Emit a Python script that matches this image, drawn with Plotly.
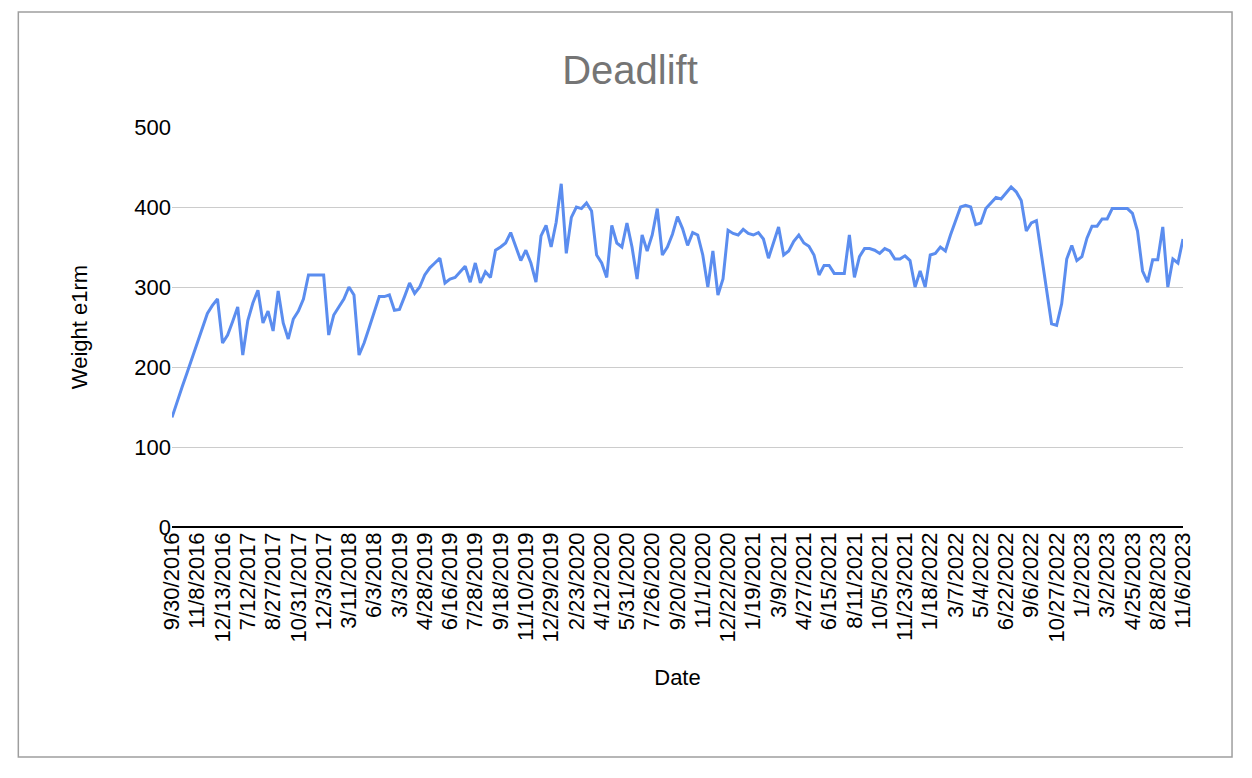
import plotly.graph_objects as go

tick_labels = ["9/30/2016","11/8/2016","12/13/2016","7/12/2017","8/27/2017","10/31/2017","12/3/2017",
"3/11/2018","6/3/2018","3/3/2019","4/28/2019","6/16/2019","7/28/2019","9/18/2019","11/10/2019",
"12/29/2019","2/23/2020","4/12/2020","5/31/2020","7/26/2020","9/20/2020","11/1/2020","12/22/2020",
"1/19/2021","3/9/2021","4/27/2021","6/15/2021","8/11/2021","10/5/2021","11/23/2021","1/18/2022",
"3/7/2022","5/4/2022","6/22/2022","9/6/2022","10/27/2022","1/2/2023","3/2/2023","4/25/2023",
"8/28/2023","11/6/2023"]
tick_step = 5

weight_e1rm = [
137,157,175,193,211,230,249,267,277,285,230,240,257,275,215,258,280,296,255,270,
245,295,255,235,260,270,285,315,315,315,315,240,265,275,285,300,290,215,230,249,
269,288,288,290,271,272,288,305,292,300,315,324,330,336,305,310,312,319,326,306,
330,305,319,312,346,350,355,368,350,333,346,330,306,364,377,350,381,429,342,387,
400,398,405,395,340,330,312,377,355,350,380,350,310,365,345,365,398,340,350,366,
388,373,352,368,365,340,300,345,290,310,371,367,365,372,367,365,368,360,336,355,
375,340,345,357,365,355,351,340,315,327,327,317,317,317,365,312,338,348,348,346,
342,348,345,335,335,339,333,300,320,300,340,342,350,345,365,384,400,402,400,378,
380,398,405,412,410,418,425,419,408,370,380,383,340,302,254,252,279,335,352,333,
338,361,376,376,385,385,398,398,398,398,392,370,320,306,334,334,375,300,335,330,
360]

x_idx = list(range(len(weight_e1rm)))
tickvals = [i * tick_step for i in range(len(tick_labels))]

fig = go.Figure(go.Scatter(x=x_idx, y=weight_e1rm, mode="lines",
                           line=dict(color="#5B8DEF", width=3)))

font = "Liberation Sans, Arial, sans-serif"
fig.update_layout(
    width=1244, height=770, paper_bgcolor="white", plot_bgcolor="white",
    margin=dict(l=164, r=69, t=119, b=251),
    showlegend=False,
    title=dict(text="Deadlift", x=0.5, xanchor="center", y=1 - 62 / 770, yanchor="middle",
               font=dict(family=font, size=40, color="#757575")),
    font=dict(family=font, size=22, color="#000"),
    xaxis=dict(range=[0, len(weight_e1rm) - 1], tickmode="array", tickvals=tickvals,
               ticktext=tick_labels, tickangle=-90, showgrid=False, zeroline=False,
               showline=False, ticks="", tickfont=dict(size=22),
               title=dict(text="Date", font=dict(size=22), standoff=28)),
    yaxis=dict(range=[0, 500], dtick=100, gridcolor="#CCCCCC", gridwidth=1,
               zeroline=True, zerolinecolor="#000", zerolinewidth=1.5, ticks="",
               tickfont=dict(size=22),
               title=dict(text="Weight e1rm", font=dict(size=22), standoff=40)),
    shapes=[dict(type="rect", xref="paper", yref="paper", x0=-0.152, x1=1.0485,
                 y0=-0.575, y1=1.2875, line=dict(color="#9E9E9E", width=1.5))],
)
fig.write_html("out.html")
